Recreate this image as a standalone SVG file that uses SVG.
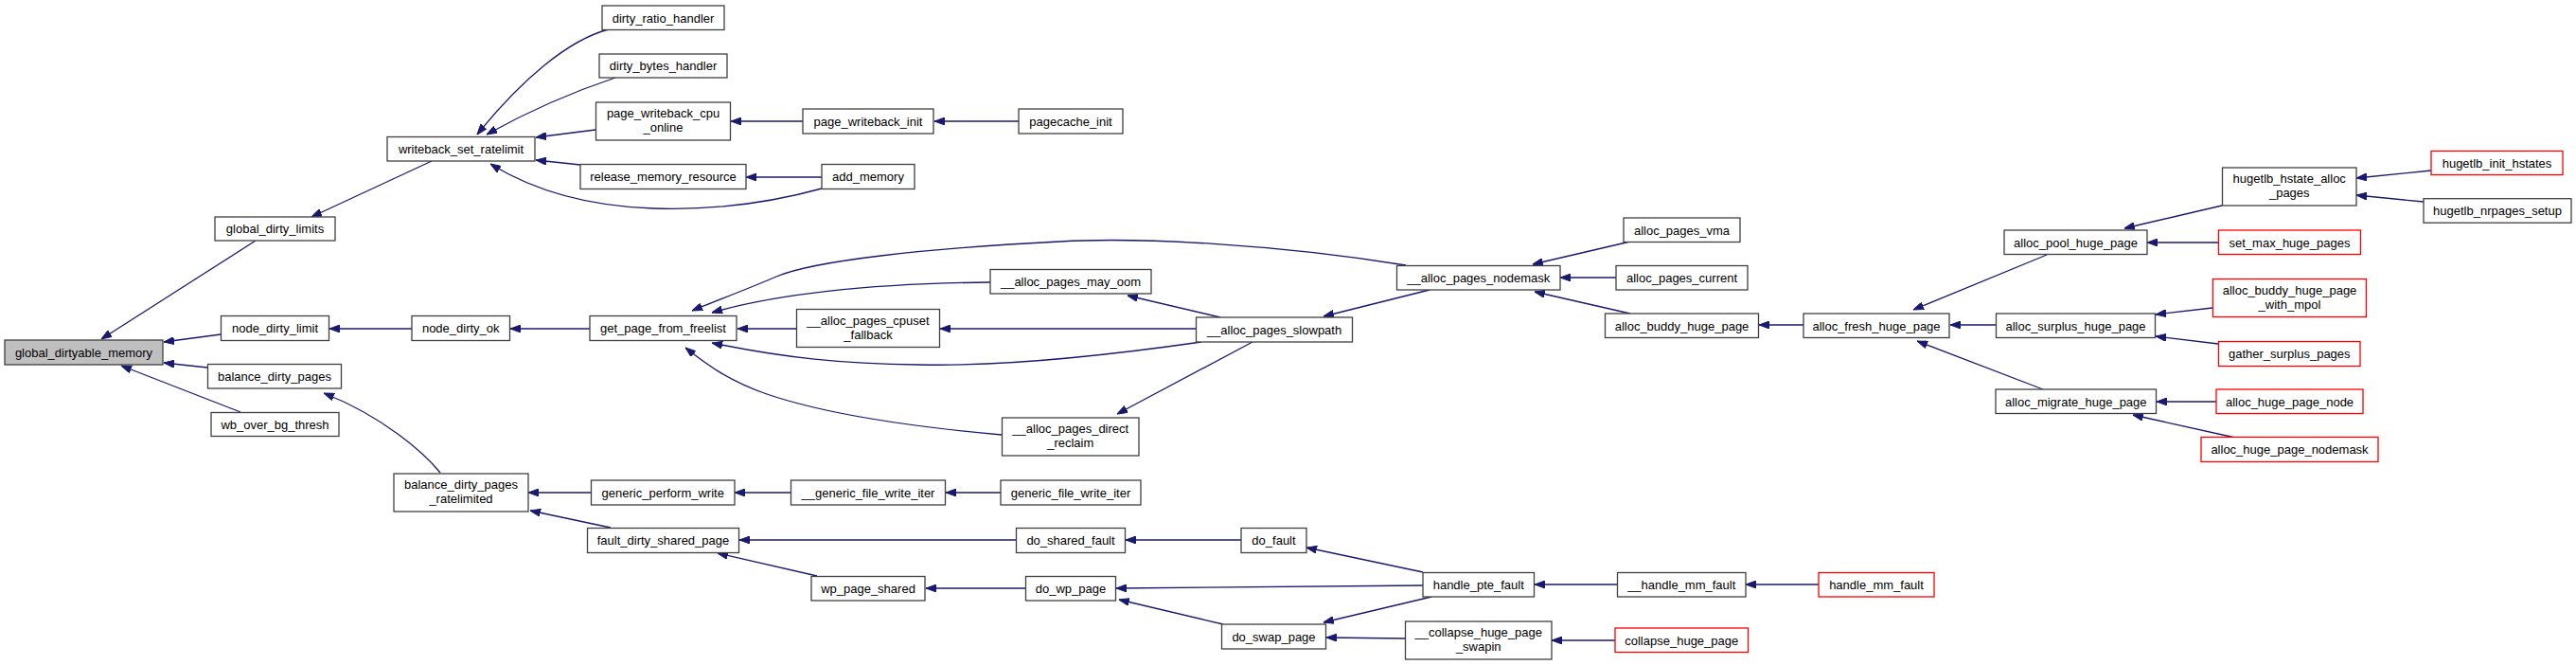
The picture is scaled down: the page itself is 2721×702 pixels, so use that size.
<svg xmlns="http://www.w3.org/2000/svg" width="2721" height="702" viewBox="0 0 2721 702">
<style>
.n rect{fill:#fff;stroke:#404040;stroke-width:1.3}
.n.r rect{stroke:#ff0000}
.n.g rect{fill:#bfbfbf}
.n text{font-family:"Liberation Sans",Arial,sans-serif;font-size:13px;fill:#000;text-anchor:middle}
#edges path{fill:none;stroke:#191970;stroke-width:1.3;marker-end:url(#ah)}
</style>
<defs>
<marker id="ah" viewBox="0 0 11 8" refX="11" refY="4" markerWidth="11" markerHeight="8" markerUnits="userSpaceOnUse" orient="auto">
<path d="M0,0 L11,4 L0,8 z" fill="#191970" stroke="#191970" stroke-width="1"/>
</marker>
</defs>
<rect width="2721" height="702" fill="#fff"/>
<g id="edges">
<path d="M270,254 L107,358"/>
<path d="M233,353 L173,361"/>
<path d="M219,388 L173,383"/>
<path d="M254,435 L128,386"/>
<path d="M456,170 L329,229"/>
<path d="M643,31 C600,42 550,85 504,142"/>
<path d="M650,82 C620,92 575,108 514,142"/>
<path d="M629,137 L566,145"/>
<path d="M613,174 L566,169"/>
<path d="M868,199 C810,215 750,222 690,220 C630,218 570,205 518,173"/>
<path d="M848,128 L772,128"/>
<path d="M1076,128 L987,128"/>
<path d="M868,187 L788,187"/>
<path d="M435,347 L348,347"/>
<path d="M623,347 L539,347"/>
<path d="M465,499 C448,478 405,440 342,415"/>
<path d="M624,520 L558,520"/>
<path d="M645,557 L560,539"/>
<path d="M841,347 L779,347"/>
<path d="M1046,298 C950,299 840,305 752,330"/>
<path d="M1485,280 C1350,258 1200,250 1120,255 C980,262 860,275 820,292 C790,305 755,318 731,328"/>
<path d="M1269,361 C1150,378 1050,387 970,385 C890,384 830,378 752,362"/>
<path d="M1058,459 C980,452 880,440 810,416 C770,402 748,386 724,367"/>
<path d="M1289,335 L1191,312"/>
<path d="M1263,347 L993,347"/>
<path d="M1323,361 L1180,437"/>
<path d="M1510,306 L1398,334"/>
<path d="M1722,255 L1619,279"/>
<path d="M1707,293 L1648,293"/>
<path d="M1722,331 L1621,308"/>
<path d="M1905,343 L1858,343"/>
<path d="M2162,269 L2021,327"/>
<path d="M2108,343 L2060,343"/>
<path d="M2158,411 L2025,360"/>
<path d="M2347,217 L2244,241"/>
<path d="M2343,256 L2268,256"/>
<path d="M2568,180 L2489,188"/>
<path d="M2560,213 L2489,206"/>
<path d="M2337,325 L2277,332"/>
<path d="M2343,363 L2277,355"/>
<path d="M2341,424 L2278,424"/>
<path d="M2361,462 L2253,438"/>
<path d="M835,520 L776,520"/>
<path d="M1057,520 L999,520"/>
<path d="M1073,570 L781,570"/>
<path d="M863,608 L758,584"/>
<path d="M1083,621 L978,621"/>
<path d="M1311,570 L1189,570"/>
<path d="M1503,604 L1380,578"/>
<path d="M1503,618 L1179,621"/>
<path d="M1292,659 L1182,633"/>
<path d="M1512,630 L1398,657"/>
<path d="M1484,674 L1401,673"/>
<path d="M1708,617 L1621,617"/>
<path d="M1921,617 L1844,617"/>
<path d="M1706,676 L1639,676"/>
</g>
<g id="n_global_dirtyable_memory" class="n g"><rect x="5" y="359" width="167" height="26"/><text x="88.5" y="376.5">global_dirtyable_memory</text></g>
<g id="n_global_dirty_limits" class="n"><rect x="227" y="229" width="127" height="25"/><text x="290.5" y="246">global_dirty_limits</text></g>
<g id="n_node_dirty_limit" class="n"><rect x="233.5" y="333.5" width="114" height="26"/><text x="290.5" y="351">node_dirty_limit</text></g>
<g id="n_balance_dirty_pages" class="n"><rect x="219.5" y="384.5" width="141" height="25.5"/><text x="290" y="402">balance_dirty_pages</text></g>
<g id="n_wb_over_bg_thresh" class="n"><rect x="223" y="435.5" width="135" height="25"/><text x="290.5" y="452.5">wb_over_bg_thresh</text></g>
<g id="n_writeback_set_ratelimit" class="n"><rect x="409" y="144.5" width="156" height="25.5"/><text x="487" y="162">writeback_set_ratelimit</text></g>
<g id="n_node_dirty_ok" class="n"><rect x="435" y="333.5" width="103.5" height="26"/><text x="486.75" y="351">node_dirty_ok</text></g>
<g id="n_balance_dirty_pages_ratelimited" class="n"><rect x="416" y="500" width="142" height="40"/><text x="487" y="516">balance_dirty_pages</text><text x="487" y="531">_ratelimited</text></g>
<g id="n_dirty_ratio_handler" class="n"><rect x="636" y="6" width="129" height="25.5"/><text x="700.5" y="23.5">dirty_ratio_handler</text></g>
<g id="n_dirty_bytes_handler" class="n"><rect x="633" y="57" width="135" height="25"/><text x="700.5" y="74">dirty_bytes_handler</text></g>
<g id="n_page_writeback_cpu_online" class="n"><rect x="629.5" y="108" width="142" height="40"/><text x="700.5" y="124">page_writeback_cpu</text><text x="700.5" y="139">_online</text></g>
<g id="n_release_memory_resource" class="n"><rect x="613" y="173.5" width="175" height="26"/><text x="700.5" y="191">release_memory_resource</text></g>
<g id="n_get_page_from_freelist" class="n"><rect x="623" y="333.5" width="155" height="26"/><text x="700.5" y="351">get_page_from_freelist</text></g>
<g id="n_generic_perform_write" class="n"><rect x="624.5" y="507" width="151.5" height="26"/><text x="700.25" y="524.5">generic_perform_write</text></g>
<g id="n_fault_dirty_shared_page" class="n"><rect x="620.5" y="557.5" width="160" height="26"/><text x="700.5" y="575">fault_dirty_shared_page</text></g>
<g id="n_page_writeback_init" class="n"><rect x="848" y="115" width="138" height="26"/><text x="917" y="132.5">page_writeback_init</text></g>
<g id="n_add_memory" class="n"><rect x="868" y="173.5" width="98" height="26"/><text x="917" y="191">add_memory</text></g>
<g id="n___alloc_pages_cpuset_fallback" class="n"><rect x="841.5" y="326.5" width="151" height="40"/><text x="917" y="342.5">__alloc_pages_cpuset</text><text x="917" y="357.5">_fallback</text></g>
<g id="n___generic_file_write_iter" class="n"><rect x="835.5" y="507" width="163" height="26"/><text x="917" y="524.5">__generic_file_write_iter</text></g>
<g id="n_wp_page_shared" class="n"><rect x="857" y="608.5" width="120" height="25.5"/><text x="917" y="626">wp_page_shared</text></g>
<g id="n_pagecache_init" class="n"><rect x="1076" y="115" width="110" height="26"/><text x="1131" y="132.5">pagecache_init</text></g>
<g id="n___alloc_pages_may_oom" class="n"><rect x="1046" y="284.5" width="170" height="25.5"/><text x="1131" y="302">__alloc_pages_may_oom</text></g>
<g id="n___alloc_pages_direct_reclaim" class="n"><rect x="1058.5" y="441" width="144.5" height="40"/><text x="1130.75" y="457">__alloc_pages_direct</text><text x="1130.75" y="472">_reclaim</text></g>
<g id="n_generic_file_write_iter" class="n"><rect x="1057" y="507" width="148" height="26"/><text x="1131" y="524.5">generic_file_write_iter</text></g>
<g id="n_do_shared_fault" class="n"><rect x="1073.5" y="557.5" width="115" height="26"/><text x="1131" y="575">do_shared_fault</text></g>
<g id="n_do_wp_page" class="n"><rect x="1083.5" y="608.5" width="95" height="25.5"/><text x="1131" y="626">do_wp_page</text></g>
<g id="n___alloc_pages_slowpath" class="n"><rect x="1263.5" y="335" width="165" height="26"/><text x="1346" y="352.5">__alloc_pages_slowpath</text></g>
<g id="n_do_fault" class="n"><rect x="1311" y="557.5" width="69" height="26"/><text x="1345.5" y="575">do_fault</text></g>
<g id="n_do_swap_page" class="n"><rect x="1290.5" y="659" width="110" height="26"/><text x="1345.5" y="676.5">do_swap_page</text></g>
<g id="n___alloc_pages_nodemask" class="n"><rect x="1475.5" y="280.5" width="172.5" height="25.5"/><text x="1561.75" y="298">__alloc_pages_nodemask</text></g>
<g id="n_handle_pte_fault" class="n"><rect x="1503" y="604.5" width="117.5" height="25.5"/><text x="1561.75" y="622">handle_pte_fault</text></g>
<g id="n___collapse_huge_page_swapin" class="n"><rect x="1484.5" y="656" width="154.5" height="40"/><text x="1561.75" y="672">__collapse_huge_page</text><text x="1561.75" y="687">_swapin</text></g>
<g id="n_alloc_pages_vma" class="n"><rect x="1715" y="230" width="123" height="25.5"/><text x="1776.5" y="247.5">alloc_pages_vma</text></g>
<g id="n_alloc_pages_current" class="n"><rect x="1707" y="280.5" width="139" height="25.5"/><text x="1776.5" y="298">alloc_pages_current</text></g>
<g id="n_alloc_buddy_huge_page" class="n"><rect x="1695.5" y="331" width="162" height="25.5"/><text x="1776.5" y="348.5">alloc_buddy_huge_page</text></g>
<g id="n___handle_mm_fault" class="n"><rect x="1708.5" y="604.5" width="135.5" height="25.5"/><text x="1776.25" y="622">__handle_mm_fault</text></g>
<g id="n_collapse_huge_page" class="n r"><rect x="1706" y="663" width="140.5" height="25.5"/><text x="1776.25" y="680.5">collapse_huge_page</text></g>
<g id="n_alloc_fresh_huge_page" class="n"><rect x="1905" y="331" width="154" height="25.5"/><text x="1982" y="348.5">alloc_fresh_huge_page</text></g>
<g id="n_handle_mm_fault" class="n r"><rect x="1921" y="604.5" width="122" height="25.5"/><text x="1982" y="622">handle_mm_fault</text></g>
<g id="n_alloc_pool_huge_page" class="n"><rect x="2117" y="243" width="151" height="25.5"/><text x="2192.5" y="260.5">alloc_pool_huge_page</text></g>
<g id="n_alloc_surplus_huge_page" class="n"><rect x="2108.5" y="331" width="168" height="25.5"/><text x="2192.5" y="348.5">alloc_surplus_huge_page</text></g>
<g id="n_alloc_migrate_huge_page" class="n"><rect x="2108" y="411" width="169.5" height="25.5"/><text x="2192.75" y="428.5">alloc_migrate_huge_page</text></g>
<g id="n_hugetlb_hstate_alloc_pages" class="n"><rect x="2347.5" y="177" width="141.5" height="40"/><text x="2418.25" y="193">hugetlb_hstate_alloc</text><text x="2418.25" y="208">_pages</text></g>
<g id="n_set_max_huge_pages" class="n r"><rect x="2343.5" y="243" width="150" height="25.5"/><text x="2418.5" y="260.5">set_max_huge_pages</text></g>
<g id="n_alloc_buddy_huge_page_with_mpol" class="n r"><rect x="2337.5" y="294.5" width="162" height="40"/><text x="2418.5" y="310.5">alloc_buddy_huge_page</text><text x="2418.5" y="325.5">_with_mpol</text></g>
<g id="n_gather_surplus_pages" class="n r"><rect x="2343.5" y="360.5" width="149.5" height="26"/><text x="2418.25" y="378">gather_surplus_pages</text></g>
<g id="n_alloc_huge_page_node" class="n r"><rect x="2341" y="411" width="155" height="25.5"/><text x="2418.5" y="428.5">alloc_huge_page_node</text></g>
<g id="n_alloc_huge_page_nodemask" class="n r"><rect x="2325" y="461.5" width="187" height="26"/><text x="2418.5" y="479">alloc_huge_page_nodemask</text></g>
<g id="n_hugetlb_init_hstates" class="n r"><rect x="2568" y="159.5" width="139" height="25"/><text x="2637.5" y="176.5">hugetlb_init_hstates</text></g>
<g id="n_hugetlb_nrpages_setup" class="n"><rect x="2560" y="209.7" width="156" height="25.5"/><text x="2638" y="227.2">hugetlb_nrpages_setup</text></g>
</svg>
